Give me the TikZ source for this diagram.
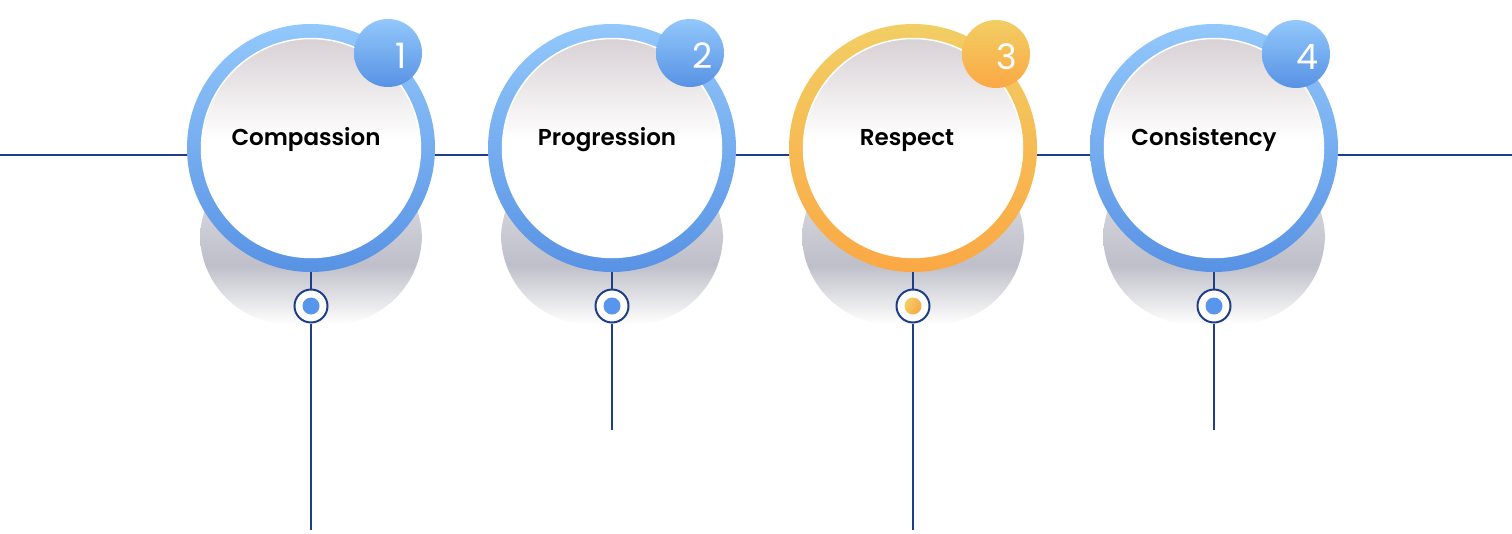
\documentclass[tikz,border=0pt]{standalone}
\usepackage{fontspec}
\setmainfont{Poppins}
\newfontfamily\titlefont{Poppins SemiBold}
\usetikzlibrary{positioning}
\definecolor{navy}{RGB}{31,62,138}
\definecolor{blueTop}{RGB}{146,200,251}
\definecolor{blueBottom}{RGB}{88,146,228}
\definecolor{orangeTop}{RGB}{242,206,100}
\definecolor{orangeBottom}{RGB}{251,168,68}
\definecolor{dotblue}{RGB}{88,150,238}
\definecolor{shadowdark}{RGB}{190,191,201}
\definecolor{shadowmid}{RGB}{212,213,220}
\definecolor{shadowlight}{RGB}{228,228,233}
\definecolor{innertop}{RGB}{216,209,213}
\pgfdeclareverticalshading{shadowfade}{100bp}{color(0bp)=(white); color(25bp)=(white); color(42bp)=(shadowdark); color(60bp)=(shadowmid); color(100bp)=(shadowlight)}
\pgfdeclareverticalshading{innerfade}{100bp}{color(0bp)=(white); color(52bp)=(white); color(75bp)=(innertop); color(100bp)=(innertop)}

\begin{document}
\begin{tikzpicture}[x=1pt, y=-1pt, node distance=301pt, on grid,
  ring/.style={circle, minimum size=248pt, inner sep=0pt},
  ringblue/.style={ring, top color=blueTop, bottom color=blueBottom},
  ringorange/.style={ring, top color=orangeTop, bottom color=orangeBottom},
  face/.style={circle, minimum size=219pt, inner sep=0pt, draw=white, line width=1.5pt, shading=innerfade},
  shadowbox/.style={rectangle, minimum width=222pt, minimum height=175pt, rounded corners=90pt, inner sep=0pt, shading=shadowfade},
  badge/.style={circle, minimum size=68pt, inner sep=0pt},
  badgeblue/.style={badge, top color=blueTop, bottom color=blueBottom},
  badgeorange/.style={badge, top color=orangeTop, bottom color=orangeBottom},
  number/.style={anchor=base, text=white, font=\fontsize{35}{35}\selectfont},
  title/.style={anchor=base, font=\fontsize{23}{23}\titlefont},
  knob/.style={circle, minimum size=33pt, inner sep=0pt, draw=navy, line width=2pt, fill=white},
  dot/.style={circle, minimum size=17pt, inner sep=0pt},
  link/.style={draw=navy, line width=2pt}]
\useasboundingbox (0,0) rectangle (1512,533);

% timeline
\coordinate (west) at (0,155);
\coordinate (east) at (1512,155);
\draw[link] (west) -- (east);

% shadows
\node[shadowbox] (s1) at (311,237) {};
\node[shadowbox] (s2) [right=of s1] {};
\node[shadowbox] (s3) [right=of s2] {};
\node[shadowbox] (s4) [right=of s3] {};

% circles
\node[ringblue] (c1) at (311,148) {};
\node[ringblue] (c2) [right=of c1] {};
\node[ringorange] (c3) [right=of c2] {};
\node[ringblue] (c4) [right=of c3] {};
\node[face] (f1) at (c1) {};
\node[face] (f2) at (c2) {};
\node[face] (f3) at (c3) {};
\node[face] (f4) at (c4) {};

% badges
\node[badgeblue] (b1) [above right=95pt and 77pt of c1] {};
\node[badgeblue] (b2) [above right=95pt and 78pt of c2] {};
\node[badgeorange] (b3) [above right=94pt and 83pt of c3] {};
\node[badgeblue] (b4) [above right=94pt and 82pt of c4] {};
\node[number, xshift=13pt, yshift=-15pt] (n1) at (b1) {1};
\node[number, xshift=13pt, yshift=-15pt] (n2) at (b2) {2};
\node[number, xshift=11pt, yshift=-15pt] (n3) at (b3) {3};
\node[number, xshift=11pt, yshift=-15pt] (n4) at (b4) {4};

% titles
\node[title, xshift=-5pt, yshift=3pt] (t1) at (c1) {Compassion};
\node[title, xshift=-5pt, yshift=3pt] (t2) at (c2) {Progression};
\node[title, xshift=-6pt, yshift=3pt] (t3) at (c3) {Respect};
\node[title, xshift=-10pt, yshift=3pt] (t4) at (c4) {Consistency};

% knobs
\node[knob] (k1) [below=158pt of c1] {};
\node[knob] (k2) [below=158pt of c2] {};
\node[knob] (k3) [below=158pt of c3] {};
\node[knob] (k4) [below=158pt of c4] {};
\node[dot, fill=dotblue] (d1) at (k1) {};
\node[dot, fill=dotblue] (d2) at (k2) {};
\node[dot, top color=orangeTop, bottom color=orangeBottom, shading angle=60] (d3) at (k3) {};
\node[dot, fill=dotblue] (d4) at (k4) {};

% stems
\coordinate[below=224pt of k1] (e1);
\coordinate[below=124pt of k2] (e2);
\coordinate[below=224pt of k3] (e3);
\coordinate[below=124pt of k4] (e4);
\draw[link] (c1) -- (k1) (k1) -- (e1);
\draw[link] (c2) -- (k2) (k2) -- (e2);
\draw[link] (c3) -- (k3) (k3) -- (e3);
\draw[link] (c4) -- (k4) (k4) -- (e4);
\end{tikzpicture}
\end{document}
